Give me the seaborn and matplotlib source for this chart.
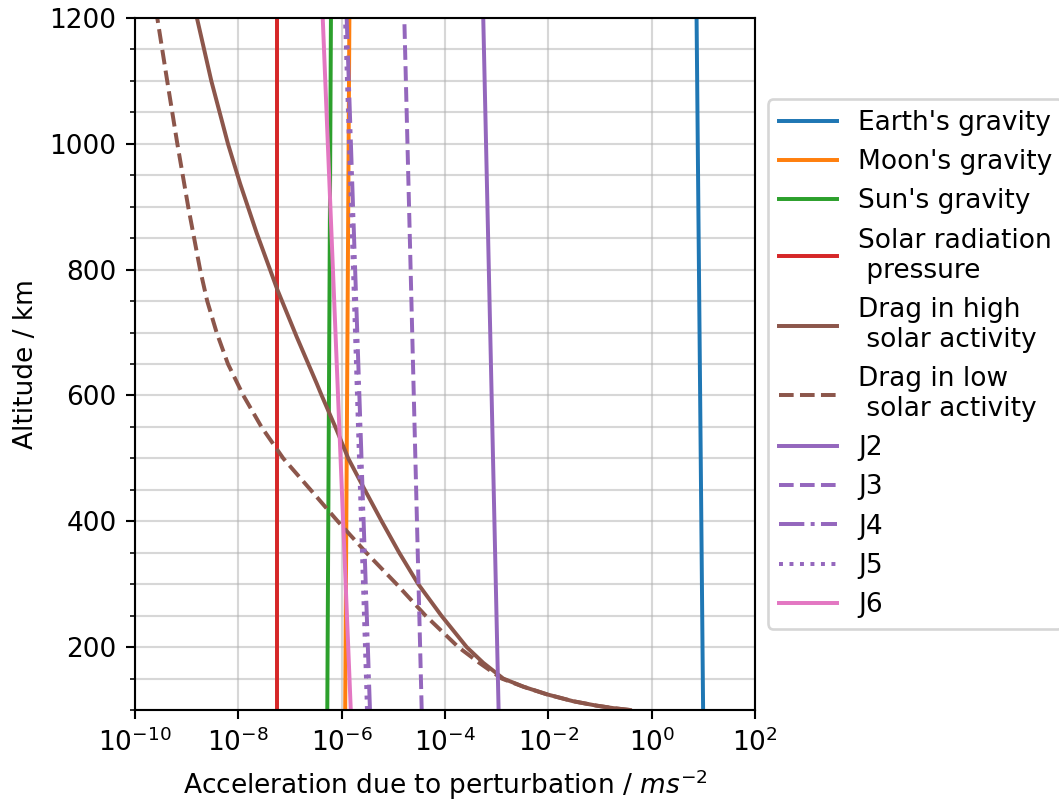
import matplotlib
matplotlib.use("Agg")
import matplotlib.pyplot as plt
import matplotlib.ticker as mticker
import seaborn as sns
import pandas as pd

# ---- data ----
alt_ends = [100, 1200]                      # km
earth_gravity = [9.9, 7.4]
moon_gravity = [1.17e-6, 1.41e-6]
sun_gravity = [5.27e-7, 6.2e-7]
solar_radiation = [5.7e-8, 5.7e-8]
j2 = [1.09e-3, 5.5e-4]
j3 = [3.54e-5, 1.63e-5]
j4 = [3.53e-6, 1.25e-6]
j5 = [3.09e-6, 1.16e-6]
j6 = [1.5e-6, 4.3e-7]

drag_high_alt = [100, 103, 107, 114, 125, 137, 150, 175, 200, 250, 300, 350, 400,
                 450, 500, 545, 600, 619, 693, 768, 858, 937, 1000, 1100, 1200]
drag_high = [0.38, 0.18, 0.085, 0.030, 9.3e-3, 3.3e-3, 1.34e-3, 5.5e-4, 2.63e-4,
             8.5e-5, 3.04e-5, 1.3e-5, 5.95e-6, 2.8e-6, 1.34e-6, 8.0e-7, 4.1e-7,
             3.29e-7, 1.35e-7, 5.7e-8, 2.27e-8, 1.08e-8, 6.3e-9, 3.0e-9, 1.58e-9]

drag_low_alt = [100, 103, 107, 114, 125, 137, 150, 175, 200, 250, 300, 350, 400,
                450, 500, 550, 600, 650, 700, 750, 800, 900, 1000, 1100, 1200]
drag_low = [0.38, 0.18, 0.085, 0.030, 9.3e-3, 3.3e-3, 1.25e-3, 4.6e-4, 1.81e-4,
            4.2e-5, 1.16e-5, 3.0e-6, 8.4e-7, 2.5e-7, 7.4e-8, 2.8e-8, 1.25e-8,
            6.3e-9, 3.8e-9, 2.5e-9, 1.82e-9, 1.07e-9, 6.6e-10, 4.2e-10, 2.7e-10]

xticks = [1e-10, 1e-8, 1e-6, 1e-4, 1e-2, 1e0, 1e2]

series = [
    ("Earth's gravity", alt_ends, earth_gravity, "C0", "-"),
    ("Moon's gravity", alt_ends, moon_gravity, "C1", "-"),
    ("Sun's gravity", alt_ends, sun_gravity, "C2", "-"),
    ("Solar radiation\n pressure", alt_ends, solar_radiation, "C3", "-"),
    ("Drag in high\n solar activity", drag_high_alt, drag_high, "C5", "-"),
    ("Drag in low\n solar activity", drag_low_alt, drag_low, "C5", "--"),
    ("J2", alt_ends, j2, "C4", "-"),
    ("J3", alt_ends, j3, "C4", "--"),
    ("J4", alt_ends, j4, "C4", "-."),
    ("J5", alt_ends, j5, "C4", ":"),
    ("J6", alt_ends, j6, "C6", "-"),
]

DPI = 190
fig = plt.figure(figsize=(1059 / DPI, 804 / DPI), dpi=DPI)
ax = fig.add_axes([135 / 1059, 1 - 710 / 804, 620 / 1059, 692 / 804])

for label, alt, acc, color, ls in series:
    df = pd.DataFrame({"acc": acc, "alt": alt})
    sns.lineplot(data=df, x="acc", y="alt", ax=ax, color=color, linestyle=ls,
                 label=label, sort=False, estimator=None, orient="y", lw=1.5)

ax.set_xscale("log")
ax.set_xlim(1e-10, 1e2)
ax.set_ylim(100, 1200)
ax.set_xticks(xticks)
ax.xaxis.set_minor_locator(mticker.NullLocator())
ax.yaxis.set_major_locator(mticker.MultipleLocator(200))
ax.yaxis.set_minor_locator(mticker.MultipleLocator(50))
ax.grid(which="major", color="#b0b0b0", alpha=0.5, lw=0.8)
ax.grid(which="minor", axis="y", color="#b0b0b0", alpha=0.5, lw=0.8)

ax.set_xlabel("Acceleration due to perturbation / $ms^{-2}$")
ax.set_ylabel("Altitude / km")

ax.legend(loc="center left", bbox_to_anchor=(1.0, 0.5), handlelength=2.2)

fig.savefig("out.png", dpi=DPI)
